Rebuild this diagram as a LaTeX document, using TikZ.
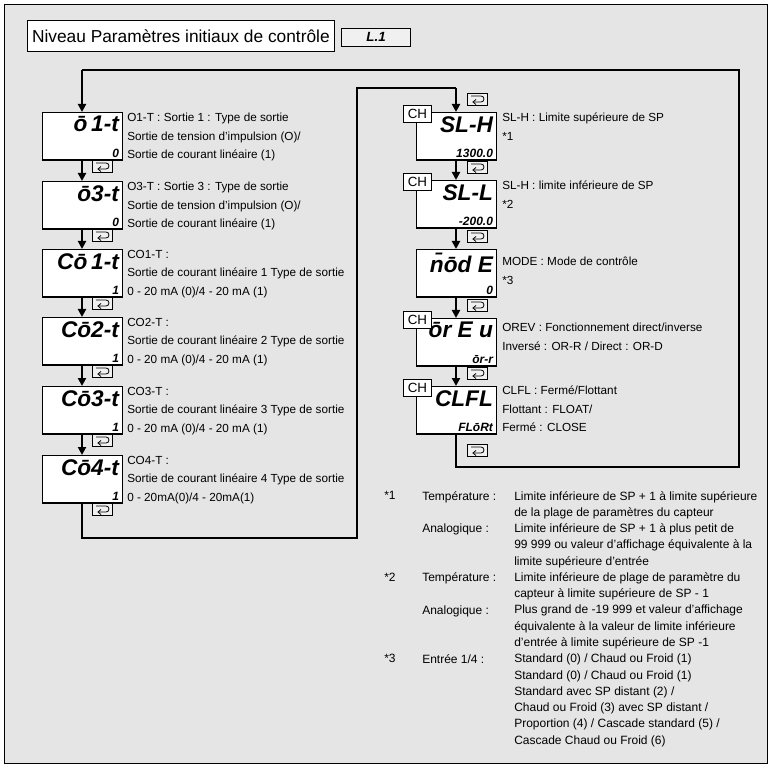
\documentclass[tikz,border=0pt]{standalone}
\usepackage{fontspec}
\setmainfont{Liberation Sans}
\usetikzlibrary{arrows.meta}
\begin{document}
\begin{tikzpicture}[x=0.75pt,y=-0.75pt,
  flow/.style={line width=2.2pt},
  arr/.style={line width=2.2pt,-{Triangle[length=6pt,width=6pt]}},
  disp/.style={draw,fill=white,line width=0.9pt,minimum width=60pt,minimum height=35.5pt,inner sep=0pt},
  seg/.style={font=\fontsize{17}{17}\selectfont\bfseries\itshape,inner sep=0pt,anchor=north east},
  val/.style={font=\fontsize{9}{9}\selectfont\bfseries\itshape,inner sep=0pt,anchor=south east},
  lab/.style={font=\fontsize{8.8}{13.9}\selectfont,anchor=north west,align=left,inner sep=0pt},
  ch/.style={draw,fill=white,line width=0.7pt,minimum width=21pt,minimum height=12.5pt,inner sep=0pt,font=\fontsize{10}{10}\selectfont},
  fn/.style={font=\fontsize{9}{12.2}\selectfont,anchor=north west,align=left,inner sep=0pt}]
\useasboundingbox (0,0) rectangle (779,770);
\node[draw,fill=black!10,line width=0.8pt,minimum width=572pt,minimum height=569pt,anchor=north west,inner sep=0] (frame) at (4,4) {};
\node[draw,fill=white,line width=0.8pt,anchor=north west,minimum width=230pt,minimum height=23pt,inner sep=2pt,font=\fontsize{13}{13}\selectfont] (title) at (27,20) {Niveau Paramètres initiaux de contrôle};
\node[draw,fill=black!6,line width=0.6pt,anchor=north west,minimum width=52pt,minimum height=13.5pt,inner sep=0pt,font=\fontsize{10}{10}\selectfont\bfseries\itshape] (lvl) at (341,28) {L.1};
\tikzset{loopic/.pic={\draw[line width=0.5pt,fill=black!6] (-10,-6) rectangle (10,6);
  \draw[line width=0.6pt] (-6,-3) -- (4,-3) arc (-90:90:3) -- (-4,3);
  \draw[line width=0.6pt] (-1,0.5) -- (-4,3) -- (-1,5.5);}}
% left column
\foreach \n/\y/\t/\v in {d1/112/{\=o\,1-t}/0,d2/181/{\=o3-t}/0,d3/249/{C\=o\,1-t}/1,d4/317/{C\=o2-t}/1,d5/386/{C\=o3-t}/1,d6/455/{C\=o4-t}/1}{
  \node[disp,anchor=north west] (\n) at (42,\y) {};
  \node[seg] at ([xshift=-3pt,yshift=-3pt]\n.north east) {\t};
  \node[val] at ([xshift=-3pt,yshift=2pt]\n.south east) {\v};
  \path (102,\y+54) pic {loopic};
}
\node[lab] at (127,113) {O1-T : Sortie 1 : Type de sortie\\Sortie de tension d'impulsion (O)/\\Sortie de courant linéaire (1)};
\node[lab] at (127,182) {O3-T : Sortie 3 : Type de sortie\\Sortie de tension d'impulsion (O)/\\Sortie de courant linéaire (1)};
\node[lab] at (127,250) {CO1-T :\\Sortie de courant linéaire 1 Type de sortie\\0 - 20 mA (0)/4 - 20 mA (1)};
\node[lab] at (127,318) {CO2-T :\\Sortie de courant linéaire 2 Type de sortie\\0 - 20 mA (0)/4 - 20 mA (1)};
\node[lab] at (127,387) {CO3-T :\\Sortie de courant linéaire 3 Type de sortie\\0 - 20 mA (0)/4 - 20 mA (1)};
\node[lab] at (127,456) {CO4-T :\\Sortie de courant linéaire 4 Type de sortie\\0 - 20mA(0)/4 - 20mA(1)};
\foreach \a/\b in {d1/d2,d2/d3,d3/d4,d4/d5,d5/d6}{\draw[arr] (\a.south-|82,0) -- (\b.north-|82,0);}
% right column
\foreach \n/\y/\t/\v in {r1/112/{SL-H}/{1300.0},r2/180/{SL-L}/{-200.0},r3/249/{\=n\=od E}/0,r4/318/{\=or E u}/{\=or-r},r5/386/{CLFL}/{FL\=oRt}}{
  \node[disp,anchor=north west] (\n) at (416,\y) {};
  \node[seg] at ([xshift=-3pt,yshift=-3pt]\n.north east) {\t};
  \node[val] at ([xshift=-3pt,yshift=2pt]\n.south east) {\v};
  \path (477,\y-13) pic {loopic};
}
\path (477,450) pic {loopic};
\foreach \n/\y in {c1/105,c2/173,c4/311,c5/379}{\node[ch,anchor=north west] (\n) at (403,\y) {CH};}
\node[lab] at (502,113) {SL-H : Limite supérieure de SP\\*1};
\node[lab] at (502,181) {SL-H : limite inférieure de SP\\*2};
\node[lab] at (502,257) {MODE : Mode de contrôle\\*3};
\node[lab] at (502,323) {OREV : Fonctionnement direct/inverse\\Inversé : OR-R / Direct : OR-D};
\node[lab] at (502,386) {CLFL : Fermé/Flottant\\Flottant : FLOAT/\\Fermé : CLOSE};
\foreach \a/\b in {r1/r2,r2/r3,r3/r4,r4/r5}{\draw[arr] (\a.south-|456,0) -- (\b.north-|456,0);}
% loops
\coordinate (p1) at (82,538); \coordinate (p2) at (357,538); \coordinate (p3) at (357,88); \coordinate (p4) at (456,88);
\draw[flow] (d6.south-|82,0) -- (p1) -- (p2) -- (p3) -- (p4);
\draw[arr] (p4) -- (r1.north-|456,0);
\coordinate (q1) at (456,467); \coordinate (q2) at (739,467); \coordinate (q3) at (739,70); \coordinate (q4) at (82,70);
\draw[flow] (r5.south-|456,0) -- (q1) -- (q2) -- (q3) -- (q4);
\draw[arr] (q4) -- (d1.north-|82,0);
% footnotes
\node[fn] at (384,491) {*1};
\node[fn] at (384,572.5) {*2};
\node[fn] at (384,654) {*3};
\node[fn] at (422,491) {Température :};
\node[fn] at (422,523.6) {Analogique :};
\node[fn] at (422,572.5) {Température :};
\node[fn] at (422,605.1) {Analogique :};
\node[fn] at (422,654) {Entrée 1/4 :};
\node[fn] at (514,491) {Limite inférieure de SP + 1 à limite supérieure\\de la plage de paramètres du capteur\\Limite inférieure de SP + 1 à plus petit de\\99 999 ou valeur d'affichage équivalente à la\\limite supérieure d'entrée\\Limite inférieure de plage de paramètre du\\capteur à limite supérieure de SP - 1\\Plus grand de -19 999 et valeur d'affichage\\équivalente à la valeur de limite inférieure\\d'entrée à limite supérieure de SP -1\\Standard (0) / Chaud ou Froid (1)\\Standard (0) / Chaud ou Froid (1)\\Standard avec SP distant (2) /\\Chaud ou Froid (3) avec SP distant /\\Proportion (4) / Cascade standard (5) /\\Cascade Chaud ou Froid (6)};
\end{tikzpicture}
\end{document}
